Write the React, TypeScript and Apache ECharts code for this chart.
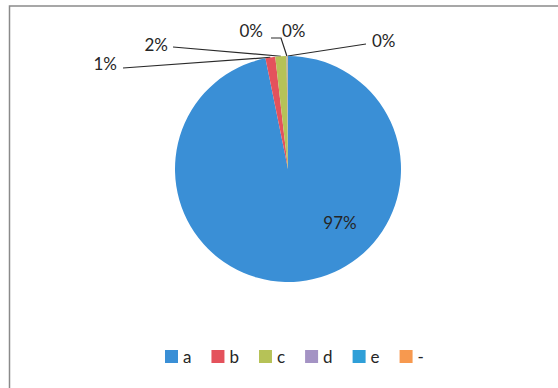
import React, { useEffect, useRef } from "react";
import * as echarts from "echarts";

const categories = ["a", "b", "c", "d", "e", "-"];
const values = [96.8, 1.4, 1.6, 0.08, 0.06, 0.06];
const colors = ["#3a8fd6", "#e4525c", "#b6c257", "#a493c4", "#2f9fd8", "#f7994f"];

// label placement (layout only): label anchor point, alignment and optional leader-line bend points
const labelSpots: { x: number; y: number; align: string; bend: number[][] | null }[] = [
  { x: 340, y: 222, align: "center", bend: null },
  { x: 117, y: 63, align: "right", bend: [[123, 68]] },
  { x: 168, y: 44, align: "right", bend: [[173, 47]] },
  { x: 263, y: 30, align: "right", bend: [[271, 38], [281, 38]] },
  { x: 282, y: 30, align: "left", bend: null },
  { x: 372, y: 40, align: "left", bend: [[366, 44]] },
];

export default function App() {
  const ref = useRef<HTMLDivElement>(null);
  useEffect(() => {
    if (!ref.current) return;
    const chart = echarts.init(ref.current, undefined, { renderer: "svg" });
    chart.setOption({
      animation: false,
      backgroundColor: "#ffffff",
      color: colors,
      graphic: [
        {
          type: "rect",
          shape: { x: 9.5, y: 6, width: 560, height: 400 },
          style: { fill: "none", stroke: "#8a8a8a", lineWidth: 1.5 },
          silent: true,
        },
      ],
      legend: {
        data: categories,
        left: 160,
        top: 343,
        icon: "rect",
        itemWidth: 13,
        itemHeight: 13,
        itemGap: 20,
        textStyle: { fontFamily: "Lato", fontSize: 17, color: "#262626" },
      },
      series: [
        {
          type: "pie",
          center: [288, 169],
          radius: [0, 113],
          startAngle: 90,
          clockwise: true,
          avoidLabelOverlap: false,
          itemStyle: { borderWidth: 0 },
          label: {
            show: true,
            position: "outside",
            fontFamily: "Lato",
            fontSize: 17,
            color: "#262626",
            formatter: (p: any) => Math.round(p.percent) + "%",
          },
          labelLine: {
            show: true,
            length: 10,
            length2: 10,
            lineStyle: { color: "#2a2a2a", width: 1.2 },
          },
          labelLayout: (params: any) => {
            const s = labelSpots[params.dataIndex];
            const out: any = {
              x: s.x,
              y: s.y,
              align: s.align,
              verticalAlign: "middle",
            };
            if (s.bend && params.labelLinePoints) {
              const anchor = params.labelLinePoints[0];
              const pts = [anchor, ...s.bend.slice().reverse()];
              while (pts.length < 3) pts.push(pts[pts.length - 1]);
              out.labelLinePoints = pts;
            }
            return out;
          },
          data: categories.map((c, i) => ({
            name: c,
            value: values[i],
            labelLine: { show: !!labelSpots[i].bend },
          })),
        },
      ],
    });
    return () => chart.dispose();
  }, []);
  return (
    <div
      ref={ref}
      style={{ position: "absolute", left: 0, top: 0, width: 558, height: 388 }}
    />
  );
}
